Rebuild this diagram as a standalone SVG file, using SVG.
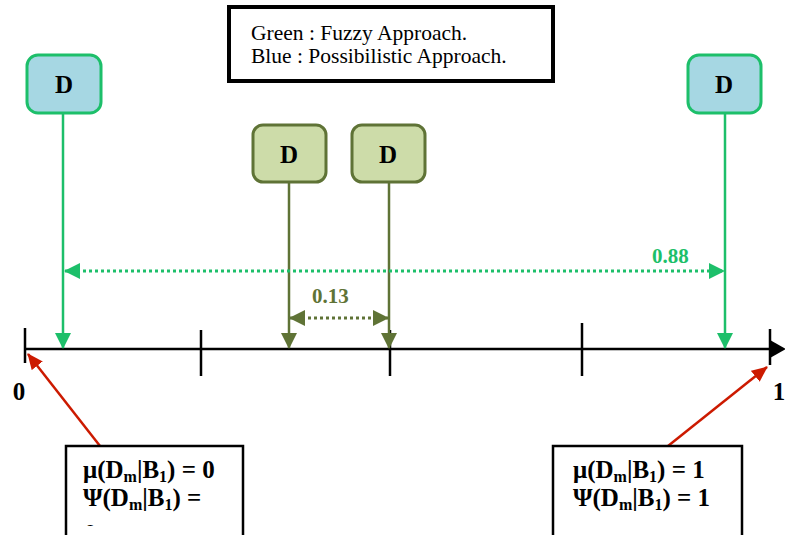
<svg xmlns="http://www.w3.org/2000/svg" width="785" height="535" viewBox="0 0 785 535">
<style>
.blue{fill:#a6d7e3;stroke:#1dbf6a;stroke-width:3}
.olive{fill:#cddca9;stroke:#5f7336;stroke-width:3}
.d{font-family:"Liberation Serif",serif;font-weight:bold;font-size:25px;text-anchor:middle;fill:#000}
.lab{font-family:"Liberation Serif",serif;font-weight:bold;font-size:25px;fill:#000}
.num{font-family:"Liberation Serif",serif;font-weight:bold;font-size:21px}
.ends{font-family:"Liberation Serif",serif;font-weight:bold;font-size:25px;text-anchor:middle;fill:#000}
.leg{font-family:"Liberation Serif",serif;font-size:21.5px;fill:#000}
.sub{font-size:16px}
.gl{stroke:#1dbf6a;stroke-width:2.5;fill:none}
.ol{stroke:#5f7336;stroke-width:2.5;fill:none}
.ax{stroke:#000;stroke-width:2.5;fill:none}
.red{stroke:#cc1a00;stroke-width:2.5;fill:none}
.box{fill:#fff;stroke:#000;stroke-width:2.5}
</style>
<defs>
<marker id="agv" markerWidth="16" markerHeight="16" refX="15" refY="8" orient="auto-start-reverse" markerUnits="userSpaceOnUse" viewBox="0 0 16 16"><path d="M0,0 L16,8 L0,16 z" fill="#1dbf6a"/></marker>
<marker id="aov" markerWidth="16" markerHeight="16" refX="15" refY="8" orient="auto-start-reverse" markerUnits="userSpaceOnUse" viewBox="0 0 16 16"><path d="M0,0 L16,8 L0,16 z" fill="#5f7336"/></marker>
<marker id="ar" markerWidth="16" markerHeight="14" refX="15" refY="7" orient="auto" markerUnits="userSpaceOnUse" viewBox="0 0 16 14"><path d="M0,0 L16,7 L0,14 z" fill="#cc1a00"/></marker>
<clipPath id="clipb"><rect x="66" y="446" width="178" height="80"/></clipPath>
</defs>

<g id="legend">
<rect x="229" y="7" width="324" height="74" fill="#fff" stroke="#000" stroke-width="4"/>
<text class="leg" x="251" y="40">Green : Fuzzy Approach.</text>
<text class="leg" x="251" y="63">Blue : Possibilistic Approach.</text>
</g>

<g id="axis">
<line class="ax" x1="25" y1="349" x2="772" y2="349"/>
<path d="M770,340 L786,349 L770,358 z" fill="#000"/>
<line class="ax" x1="25" y1="328" x2="25" y2="363"/>
<line class="ax" x1="201" y1="330" x2="201" y2="376"/>
<line class="ax" x1="390" y1="330" x2="390" y2="376"/>
<line class="ax" x1="582" y1="323" x2="582" y2="376"/>
<line class="ax" x1="770" y1="329" x2="770" y2="365"/>
<text class="ends" x="19" y="400">0</text>
<text class="ends" x="779" y="400">1</text>
</g>

<g id="connectors">
<line class="gl" x1="63" y1="113" x2="63" y2="348" marker-end="url(#agv)"/>
<line class="gl" x1="725" y1="113" x2="725" y2="348" marker-end="url(#agv)"/>
<line class="ol" x1="289" y1="182" x2="289" y2="348" marker-end="url(#aov)"/>
<line class="ol" x1="389" y1="182" x2="389" y2="348" marker-end="url(#aov)"/>
<line x1="65" y1="271" x2="724" y2="271" stroke="#1dbf6a" stroke-width="3" stroke-dasharray="3,3" marker-start="url(#agv)" marker-end="url(#agv)"/>
<line x1="290" y1="318" x2="388" y2="318" stroke="#5f7336" stroke-width="3" stroke-dasharray="3,3" marker-start="url(#aov)" marker-end="url(#aov)"/>
<line class="red" x1="100" y1="446" x2="28" y2="354" marker-end="url(#ar)"/>
<line class="red" x1="668" y1="446" x2="767" y2="367" marker-end="url(#ar)"/>
<text class="num" x="652" y="263" fill="#1dbf6a">0.88</text>
<text class="num" x="312" y="303" fill="#5f7336">0.13</text>
</g>

<g id="nodeBlueLeft">
<rect class="blue" x="27" y="55" width="74" height="58" rx="11"/>
<text class="d" x="64" y="93">D</text>
</g>
<g id="nodeBlueRight">
<rect class="blue" x="688" y="55" width="73" height="58" rx="11"/>
<text class="d" x="724" y="93">D</text>
</g>
<g id="nodeGreen1">
<rect class="olive" x="253" y="125" width="73" height="57" rx="10"/>
<text class="d" x="289" y="163">D</text>
</g>
<g id="nodeGreen2">
<rect class="olive" x="352" y="125" width="73" height="57" rx="10"/>
<text class="d" x="388" y="163">D</text>
</g>

<g id="boxLeft">
<rect class="box" x="66" y="446" width="177" height="100"/>
<g clip-path="url(#clipb)">
<text class="lab" x="83" y="478">μ(D<tspan class="sub" dy="4">m</tspan><tspan dy="-4">|B</tspan><tspan class="sub" dy="4">1</tspan><tspan dy="-4">) = 0</tspan></text>
<text class="lab" x="83" y="506">Ψ(D<tspan class="sub" dy="4">m</tspan><tspan dy="-4">|B</tspan><tspan class="sub" dy="4">1</tspan><tspan dy="-4">) =</tspan></text>
<text class="lab" x="84" y="542">0</text>
</g>
</g>

<g id="boxRight">
<rect class="box" x="553" y="446" width="189" height="100"/>
<text class="lab" x="573" y="478">μ(D<tspan class="sub" dy="4">m</tspan><tspan dy="-4">|B</tspan><tspan class="sub" dy="4">1</tspan><tspan dy="-4">) = 1</tspan></text>
<text class="lab" x="573" y="506">Ψ(D<tspan class="sub" dy="4">m</tspan><tspan dy="-4">|B</tspan><tspan class="sub" dy="4">1</tspan><tspan dy="-4">) = 1</tspan></text>
</g>
</svg>
